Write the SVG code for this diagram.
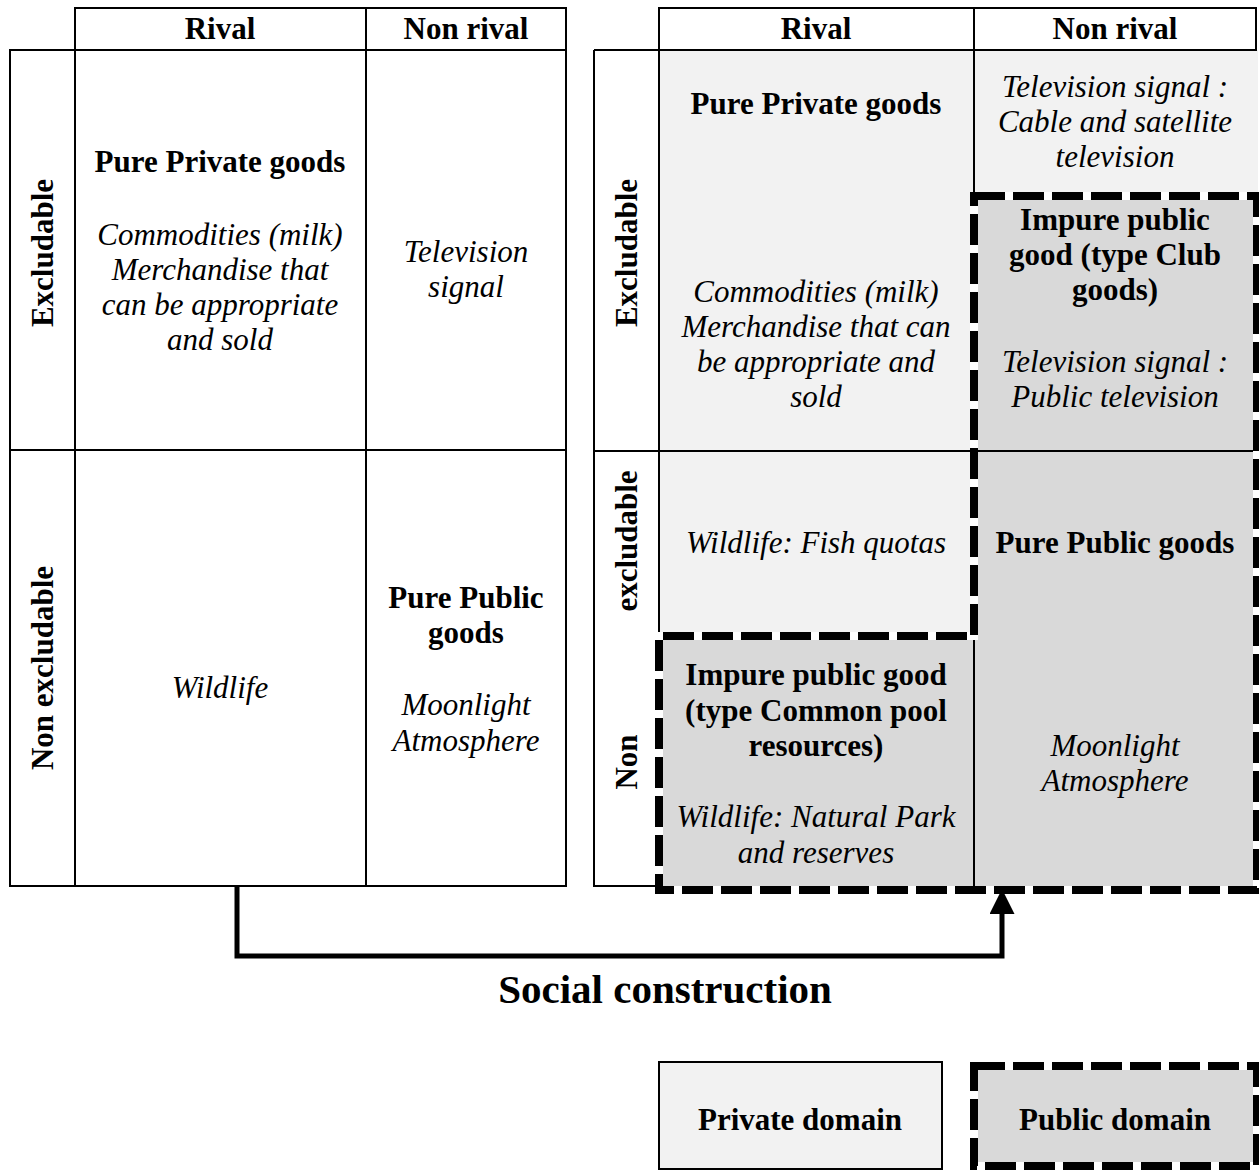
<svg xmlns="http://www.w3.org/2000/svg" width="1259" height="1171" viewBox="0 0 1259 1171">
<defs>
<style>
.ln{stroke:#000;stroke-width:2;fill:none}
.bx{stroke:#000;stroke-width:2}
.dashbg{stroke:#fff;stroke-width:8;fill:none}
.dash{stroke:#000;stroke-width:8;fill:none;stroke-dasharray:31 8}
.light{fill:#f2f2f2}
.dark{fill:#d9d9d9}
text{font-family:"Liberation Serif","Times New Roman",serif;font-size:31px;text-anchor:middle;fill:#000}
.b{font-weight:bold}
.i{font-style:italic}
.title{font-size:41px;font-weight:bold}
</style>
<marker id="ah" viewBox="0 0 25 25" refX="0" refY="12.5" markerWidth="25" markerHeight="25" markerUnits="userSpaceOnUse" orient="auto">
<path d="M0,0 L25,12.5 L0,25 z" fill="#000"/>
</marker>
</defs>
<rect width="1259" height="1171" fill="#fff"/>

<!-- LEFT TABLE -->
<g id="left-table">
<g id="l-header">
<rect x="75" y="8" width="291" height="42" fill="#fff" class="bx"/>
<rect x="366" y="8" width="200" height="42" fill="#fff" class="bx"/>
<text class="b" x="220" y="39">Rival</text>
<text class="b" x="466" y="39">Non rival</text>
</g>
<g id="l-row-excludable">
<rect x="10" y="50" width="65" height="400" fill="#fff" class="bx"/>
<text class="b" transform="translate(53,253) rotate(-90)">Excludable</text>
</g>
<g id="l-pure-private">
<rect x="75" y="50" width="291" height="400" fill="#fff" class="bx"/>
<text class="b" x="220" y="172">Pure Private goods</text>
<text class="i" x="220" y="245">Commodities (milk)</text>
<text class="i" x="220" y="280">Merchandise that</text>
<text class="i" x="220" y="315">can be appropriate</text>
<text class="i" x="220" y="350">and sold</text>
</g>
<g id="l-tv">
<rect x="366" y="50" width="200" height="400" fill="#fff" class="bx"/>
<text class="i" x="466" y="262">Television</text>
<text class="i" x="466" y="297">signal</text>
</g>
<g id="l-row-nonexcludable">
<rect x="10" y="450" width="65" height="436" fill="#fff" class="bx"/>
<text class="b" transform="translate(53,668) rotate(-90)">Non excludable</text>
</g>
<g id="l-wildlife">
<rect x="75" y="450" width="291" height="436" fill="#fff" class="bx"/>
<text class="i" x="220" y="698">Wildlife</text>
</g>
<g id="l-pure-public">
<rect x="366" y="450" width="200" height="436" fill="#fff" class="bx"/>
<text class="b" x="466" y="608">Pure Public</text>
<text class="b" x="466" y="643">goods</text>
<text class="i" x="466" y="715">Moonlight</text>
<text class="i" x="466" y="751">Atmosphere</text>
</g>
</g>

<!-- RIGHT TABLE -->
<g id="right-table">
<g id="r-fills">
<rect x="659" y="50" width="315" height="587" class="light"/>
<rect x="974" y="50" width="284" height="146" class="light"/>
<rect x="974" y="196" width="284" height="694" class="dark"/>
<rect x="659" y="636" width="315" height="254" class="dark"/>
</g>
<g id="r-header">
<rect x="659" y="8" width="315" height="42" fill="#fff" class="bx"/>
<rect x="974" y="8" width="282" height="42" fill="#fff" class="bx"/>
<text class="b" x="816" y="39">Rival</text>
<text class="b" x="1115" y="39">Non rival</text>
</g>
<g id="r-grid">
<path class="ln" d="M594,50 H1256 M594,451 H1256 M594,50 V886 H659 M659,50 V636 M974,50 V196 M974,636 V890"/>
</g>
<g id="r-row-excludable">
<text class="b" transform="translate(637,253) rotate(-90)">Excludable</text>
</g>
<g id="r-row-nonexcludable">
<text class="b" transform="translate(637,541) rotate(-90)">excludable</text>
<text class="b" transform="translate(637,762) rotate(-90)">Non</text>
</g>
<g id="r-pure-private">
<text class="b" x="816" y="114">Pure Private goods</text>
<text class="i" x="816" y="302">Commodities (milk)</text>
<text class="i" x="816" y="337">Merchandise that can</text>
<text class="i" x="816" y="372">be appropriate and</text>
<text class="i" x="816" y="407">sold</text>
</g>
<g id="r-tv-cable">
<text class="i" x="1115" y="97">Television signal :</text>
<text class="i" x="1115" y="132">Cable and satellite</text>
<text class="i" x="1115" y="167">television</text>
</g>
<g id="r-club">
<text class="b" x="1115" y="230">Impure public</text>
<text class="b" x="1115" y="265">good (type Club</text>
<text class="b" x="1115" y="300">goods)</text>
<text class="i" x="1115" y="372">Television signal :</text>
<text class="i" x="1115" y="407">Public television</text>
</g>
<g id="r-fish">
<text class="i" x="816" y="553">Wildlife: Fish quotas</text>
</g>
<g id="r-pure-public">
<text class="b" x="1115" y="553">Pure Public goods</text>
</g>
<g id="r-common-pool">
<text class="b" x="816" y="685">Impure public good</text>
<text class="b" x="816" y="721">(type Common pool</text>
<text class="b" x="816" y="756">resources)</text>
<text class="i" x="816" y="827">Wildlife: Natural Park</text>
<text class="i" x="816" y="863">and reserves</text>
</g>
<g id="r-moonlight">
<text class="i" x="1115" y="756">Moonlight</text>
<text class="i" x="1115" y="791">Atmosphere</text>
</g>
<g id="public-domain-outline">
<path class="dashbg" d="M974,196 H1257 V890 H659 V636 H974 Z"/>
<path class="dash" d="M974,196 H1257 V890 H659 V636 H974 Z"/>
</g>
</g>

<!-- CONNECTORS -->
<g id="connectors">
<path d="M237,886 V956 H1002 V914" fill="none" stroke="#000" stroke-width="5" marker-end="url(#ah)"/>
</g>

<g id="title">
<text class="title" x="665" y="1003">Social construction</text>
</g>

<!-- LEGEND -->
<g id="legend-private">
<rect x="659" y="1062" width="283" height="107" class="light bx"/>
<text class="b" x="800" y="1130">Private domain</text>
</g>
<g id="legend-public">
<rect x="974" y="1066" width="283" height="100" class="dark"/>
<path class="dashbg" d="M974,1066 H1257 V1166 H974 Z"/>
<path class="dash" d="M974,1066 H1257 V1166 H974 Z"/>
<text class="b" x="1115" y="1130">Public domain</text>
</g>
</svg>
